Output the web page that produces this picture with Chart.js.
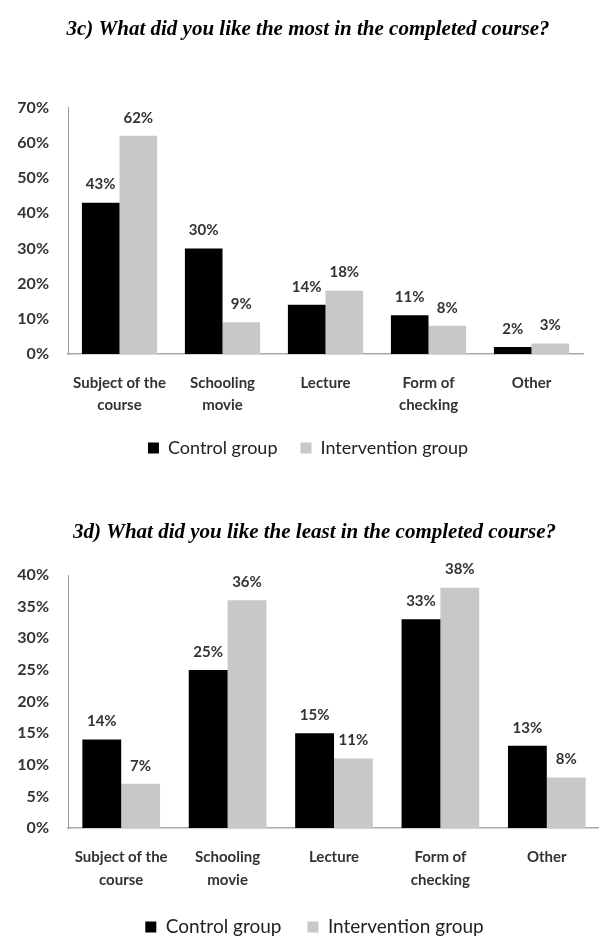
<!DOCTYPE html>
<html>
<head>
<meta charset="utf-8">
<script src="https://cdn.jsdelivr.net/npm/chart.js@4.4.1/dist/chart.umd.min.js"></script>
<style>
  html, body { margin: 0; padding: 0; background: #fff; overflow: hidden; }
  #mostChart { position: absolute; left: 0; top: 0; }
  #leastChart { position: absolute; left: 0; top: 470px; }
</style>
</head>
<body>
<canvas id="mostChart" width="599" height="470"></canvas>
<canvas id="leastChart" width="613" height="478"></canvas>
<script>
// answers per category, in percent
const categories = [['Subject of the', 'course'], ['Schooling', 'movie'], 'Lecture', ['Form of', 'checking'], 'Other'];
const seriesNames = ['Control group', 'Intervention group'];

const mostControl = [43, 30, 14, 11, 2];
const mostIntervention = [62, 9, 18, 8, 3];
const mostTicks = { max: 70, step: 10 };

const leastControl = [14, 25, 15, 33, 13];
const leastIntervention = [7, 36, 11, 38, 8];
const leastTicks = { max: 40, step: 5 };

const textColor = '#333';

// writes the value above each bar
const valueLabels = {
  id: 'valueLabels',
  afterDatasetsDraw(chart) {
    const ctx = chart.ctx;
    ctx.save();
    ctx.font = 'bold 15px Lato';
    ctx.fillStyle = textColor;
    ctx.textAlign = 'center';
    ctx.textBaseline = 'middle';
    chart.data.datasets.forEach((ds, i) => {
      chart.getDatasetMeta(i).data.forEach((bar, j) => {
        ctx.fillText(ds.data[j] + '%', bar.x, bar.y - 18);
      });
    });
    ctx.restore();
  }
};

function makeChart(id, title, control, intervention, yTicks, lay) {
  let ctx = document.getElementById(id).getContext('2d');
  return new Chart(ctx, {
    type: 'bar',
    data: {
      labels: categories,
      datasets: [{
        label: seriesNames[0],
        data: control,
        yAxisID: 'y',
        backgroundColor: '#000',
        categoryPercentage: 0.73,
        barPercentage: 1.0
      }, {
        label: seriesNames[1],
        data: intervention,
        yAxisID: 'y',
        backgroundColor: '#c8c8c8',
        categoryPercentage: 0.73,
        barPercentage: 1.0
      }]
    },
    options: {
      responsive: false,
      animation: false,
      layout: { padding: lay.padding },
      plugins: {
        tooltip: { enabled: false },
        title: {
          display: true,
          text: title,
          color: '#000',
          font: { family: 'Liberation Serif', size: 21, weight: 'bold', style: 'italic' },
          padding: lay.titlePadding
        },
        legend: {
          position: 'bottom',
          labels: {
            color: '#222',
            font: { family: 'Lato', size: lay.legendSize },
            boxWidth: 11,
            boxHeight: 11,
            padding: lay.legendPadding
          }
        }
      },
      scales: {
        x: {
          grid: { display: false, drawTicks: false },
          border: { display: true, color: '#aaa', width: 1.5 },
          afterFit(scale) { scale.height = lay.xHeight; },
          ticks: {
            color: textColor,
            padding: lay.xPadding,
            maxRotation: 0,
            font: { family: 'Lato', size: 15, weight: 'bold', lineHeight: lay.xLine }
          }
        },
        y: {
          min: 0,
          max: yTicks.max,
          grid: { display: false, drawTicks: false },
          border: { display: true, color: '#999', width: 1 },
          afterFit(scale) { scale.width = lay.yWidth; },
          ticks: {
            stepSize: yTicks.step,
            color: textColor,
            padding: 19,
            font: { family: 'Lato', size: 16, weight: 'bold' },
            callback: function(value) {
              return value + '%';
            }
          }
        },
        // empty strip on the right so title and legend sit a bit right of the plot centre
        gap: {
          type: 'linear',
          position: 'right',
          grid: { display: false, drawTicks: false },
          border: { display: false },
          ticks: { display: false },
          afterFit(scale) { scale.width = lay.rightGap; }
        }
      }
    },
    plugins: [valueLabels]
  });
}

makeChart('mostChart', '3c) What did you like the most in the completed course?',
  mostControl, mostIntervention, mostTicks, {
    padding: { left: 17, right: 0, top: 0, bottom: 3 },
    titlePadding: { top: 17.4, bottom: 65 },
    legendSize: 18,
    legendPadding: 23,
    xPadding: 18,
    xLine: 22 / 15,
    xHeight: 62,
    yWidth: 51,
    rightGap: 16
  });

makeChart('leastChart', '3d) What did you like the least in the completed course?',
  leastControl, leastIntervention, leastTicks, {
    padding: { left: 16, right: 0, top: 0, bottom: 1.5 },
    titlePadding: { top: 50.4, bottom: 29.4 },
    legendSize: 19,
    legendPadding: 26,
    xPadding: 17.5,
    xLine: 23 / 15,
    xHeight: 63.5,
    yWidth: 52,
    rightGap: 13
  });
</script>
</body>
</html>
